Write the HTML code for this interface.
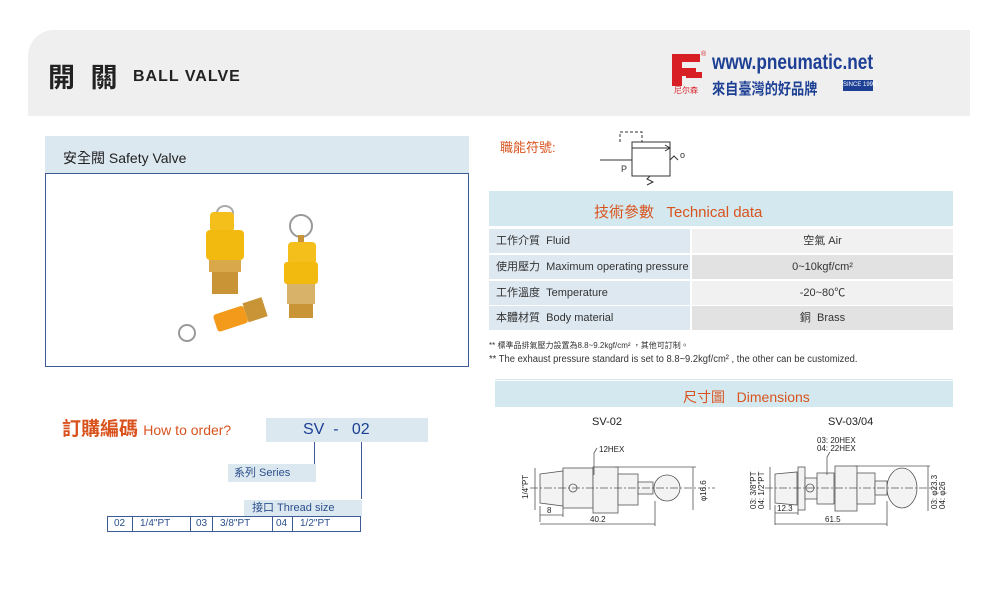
<!DOCTYPE html>
<html><head><meta charset="utf-8"><style>
*{margin:0;padding:0;box-sizing:border-box}
body{width:1000px;height:600px;background:#fff;position:relative;overflow:hidden;font-family:"Liberation Sans","Noto Sans CJK TC",sans-serif}
.a{position:absolute;white-space:nowrap}
.row{position:absolute;left:489px;width:464px;height:24px;font-size:11px;color:#333}
.row .l{position:absolute;left:0;top:0;width:201px;height:24px;background:#dde8f1;padding-left:7px;line-height:24px}
.row .r{position:absolute;left:203px;top:0;width:261px;height:24px;line-height:24px;text-align:center}
.or{color:#d9531e}
</style></head><body>
<div class="a" style="left:28px;top:30px;width:942px;height:86px;background:#efefef;border-top-left-radius:26px"></div>
<div class="a" style="left:48px;top:56px;font-size:27px;font-weight:bold;color:#222;letter-spacing:4px">開 關</div>
<div class="a" style="left:133px;top:68px;font-size:16px;font-weight:bold;color:#222;letter-spacing:1px">BALL VALVE</div>
<svg class="a" style="left:668px;top:48px" width="40" height="46"><path d="M4 6h28v8H14v6h14v8H14v10H4z" fill="#d91f26"/><path d="M18 24h16v6H18z" fill="#d91f26"/><text x="6" y="45" font-size="8" fill="#d91f26">尼尔森</text><text x="33" y="8" font-size="7" fill="#d91f26">®</text></svg>
<div class="a" style="left:712px;top:51px;font-size:21px;font-weight:bold;color:#1d3f94;transform:scaleX(0.82);transform-origin:left">www.pneumatic.net</div>
<div class="a" style="left:712px;top:77px;font-size:15.5px;font-weight:bold;color:#1d3f94;transform:scaleX(0.85);transform-origin:left">來自臺灣的好品牌</div>
<div class="a" style="left:843px;top:80px;width:30px;height:11px;background:#1d3f94;color:#fff;font-size:6px;text-align:center;line-height:11px">SINCE 1990</div>

<div class="a" style="left:45px;top:136px;width:424px;height:37px;background:#dce8f0"></div>
<div class="a" style="left:63px;top:148px;font-size:14px;color:#222">安全閥 Safety Valve</div>
<div class="a" style="left:45px;top:173px;width:424px;height:194px;border:1px solid #3d5a99"></div>
<svg class="a" style="left:170px;top:190px" width="170" height="160">
<ellipse cx="55" cy="23" rx="8" ry="7" fill="none" stroke="#aaa" stroke-width="2"/>
<rect x="40" y="22" width="24" height="20" rx="4" fill="#f4bf1a"/>
<rect x="36" y="40" width="38" height="30" rx="4" fill="#f2b90f"/>
<rect x="39" y="70" width="32" height="12" fill="#d9a84b"/>
<rect x="42" y="82" width="26" height="22" fill="#c89436"/>
<circle cx="131" cy="36" r="11" fill="none" stroke="#999" stroke-width="2"/>
<rect x="128" y="45" width="6" height="10" fill="#c89436"/>
<rect x="118" y="52" width="28" height="23" rx="4" fill="#f4bf1a"/>
<rect x="114" y="72" width="34" height="22" rx="3" fill="#f2b90f"/>
<rect x="117" y="94" width="28" height="20" fill="#d9b26a"/>
<rect x="119" y="114" width="24" height="14" fill="#c89436"/>
<g transform="rotate(-18 60 130)"><rect x="45" y="120" width="32" height="18" rx="3" fill="#f39a1a"/><rect x="77" y="118" width="20" height="20" fill="#c89436"/></g>
<circle cx="17" cy="143" r="8" fill="none" stroke="#999" stroke-width="2"/>
</svg>

<div class="a or" style="left:500px;top:137px;font-size:13px">職能符號:</div>
<svg class="a" style="left:595px;top:130px" width="100" height="60" fill="none" stroke="#333" stroke-width="1">
<path d="M25 12V2h22v10" stroke-dasharray="3 2"/>
<rect x="37" y="12" width="38" height="34"/>
<path d="M37 18h38M5 30h32M75 30l4 -4 4 4" /><path d="M70 15l5 3-5 3"/>
<path d="M55 46l-3 3 6 3-6 3"/>
<text x="26" y="42" font-size="9" fill="#333" stroke="none">P</text><text x="85" y="28" font-size="9" fill="#333" stroke="none">o</text>
</svg>

<div class="a" style="left:489px;top:191px;width:464px;height:35px;background:#d4e9ef"></div>
<div class="a or" style="left:594px;top:201px;font-size:15px">技術參數&nbsp;&nbsp;&nbsp;Technical data</div>
<div class="row" style="top:229px"><div class="l">工作介質&nbsp;&nbsp;Fluid</div><div class="r" style="background:#f1f1f1">空氣 Air</div></div>
<div class="row" style="top:255px"><div class="l">使用壓力&nbsp;&nbsp;Maximum operating pressure</div><div class="r" style="background:#e2e2e2">0~10kgf/cm²</div></div>
<div class="row" style="top:281px"><div class="l">工作溫度&nbsp;&nbsp;Temperature</div><div class="r" style="background:#f1f1f1">-20~80℃</div></div>
<div class="row" style="top:306px"><div class="l">本體材質&nbsp;&nbsp;Body material</div><div class="r" style="background:#e2e2e2">銅&nbsp;&nbsp;Brass</div></div>
<div class="a" style="left:489px;top:340px;font-size:8px;color:#333">** 標準品排氣壓力設置為8.8~9.2kgf/cm²&nbsp;，其他可訂制。</div>
<div class="a" style="left:489px;top:354px;font-size:10px;color:#333;transform:scaleX(0.94);transform-origin:left">** The exhaust pressure standard is set to 8.8~9.2kgf/cm²&nbsp;, the other can be customized.</div>
<div class="a" style="left:495px;top:379px;width:458px;height:1px;background:#d8e8ee"></div>
<div class="a" style="left:495px;top:381px;width:458px;height:26px;background:#d4e9ef"></div>
<div class="a or" style="left:683px;top:387px;font-size:14px">尺寸圖&nbsp;&nbsp;&nbsp;Dimensions</div>
<div class="a" style="left:592px;top:416px;font-size:11px;color:#222">SV-02</div>
<div class="a" style="left:828px;top:416px;font-size:11px;color:#222">SV-03/04</div>

<svg class="a" style="left:495px;top:421px" width="460" height="120" fill="none" stroke="#555" stroke-width="0.8" font-family="Liberation Sans" font-size="8">
<g fill="#f3f3f3">
<path d="M45 53l23-3v35l-23-3z"/><rect x="68" y="47" width="30" height="40"/><rect x="98" y="46" width="25" height="46"/><rect x="123" y="53" width="20" height="31"/><rect x="143" y="61" width="15" height="12"/>
<circle cx="172" cy="67" r="13"/></g>
<circle cx="78" cy="67" r="4"/>
<path d="M35 67h185" stroke-dasharray="8 2 2 2"/>
<path d="M40 53v29M40 47v42M45 85v16M68 87v9M45 94h23M160 80v25M45 103h115M120 46h81M198 46v43"/>
<path d="M102 27l-3 5v22"/><text x="104" y="31" fill="#222" stroke="none">12HEX</text>
<text x="52" y="92" fill="#222" stroke="none">8</text><text x="95" y="101" fill="#222" stroke="none">40.2</text>
<text transform="translate(33 78) rotate(-90)" fill="#222" stroke="none">1/4"PT</text>
<text transform="translate(211 80) rotate(-90)" fill="#222" stroke="none">φ16.6</text>
<g transform="translate(230 0)">
<g fill="#f3f3f3"><path d="M50 53l22-2v33l-22-2z"/><rect x="73" y="46" width="7" height="43"/><rect x="80" y="57" width="12" height="21"/><rect x="92" y="52" width="17" height="31"/><rect x="110" y="45" width="22" height="45"/><rect x="132" y="52" width="18" height="31"/><rect x="150" y="60" width="12" height="14"/>
<ellipse cx="177" cy="67" rx="15" ry="20"/></g>
<circle cx="85" cy="67" r="4"/>
<path d="M40 67h172" stroke-dasharray="8 2 2 2"/>
<path d="M45 53v29M45 46v43M50 84v20M73 89v5M50 92h23M162 80v25M50 103h112M130 45h75M203 45v45"/>
<path d="M105 31l-3 5v18"/><text x="92" y="22" fill="#222" stroke="none">03: 20HEX</text><text x="92" y="30" fill="#222" stroke="none">04: 22HEX</text>
<text x="52" y="90" fill="#222" stroke="none">12.3</text><text x="100" y="101" fill="#222" stroke="none">61.5</text>
<text transform="translate(31 88) rotate(-90)" fill="#222" stroke="none">03: 3/8"PT</text>
<text transform="translate(39 88) rotate(-90)" fill="#222" stroke="none">04: 1/2"PT</text>
<text transform="translate(212 88) rotate(-90)" fill="#222" stroke="none">03: φ23.3</text>
<text transform="translate(220 88) rotate(-90)" fill="#222" stroke="none">04: φ26</text>
</g>
</svg>

<div class="a or" style="left:62px;top:414px;font-size:19px;font-weight:bold">訂購編碼 <span style="font-size:14px;font-weight:normal">How to order?</span></div>
<div class="a" style="left:266px;top:418px;width:162px;height:24px;background:#dce8f0;color:#1d3f94;font-size:16px;line-height:24px;padding-left:37px">SV&nbsp;&nbsp;-&nbsp;&nbsp;&nbsp;02</div>
<div class="a" style="left:314px;top:442px;width:1px;height:22px;background:#3d5a99"></div>
<div class="a" style="left:361px;top:442px;width:1px;height:57px;background:#3d5a99"></div>
<div class="a" style="left:228px;top:464px;width:88px;height:18px;background:#dce8f0;color:#2b4f8c;font-size:11px;line-height:18px;padding-left:6px">系列 Series</div>
<div class="a" style="left:244px;top:500px;width:118px;height:17px;background:#dce8f0;color:#2b4f8c;font-size:11px;line-height:17px;padding-left:8px">接口 Thread size</div>
<div class="a" style="left:107px;top:516px;width:254px;height:16px;border:1px solid #3d5a99;font-size:10px;color:#2b4f8c;line-height:14px">
<span class="a" style="left:6px">02</span><span class="a" style="left:24px;top:0;height:14px;border-left:1px solid #3d5a99"></span>
<span class="a" style="left:32px">1/4"PT</span><span class="a" style="left:82px;top:0;height:14px;border-left:1px solid #3d5a99"></span>
<span class="a" style="left:88px">03</span><span class="a" style="left:104px;top:0;height:14px;border-left:1px solid #3d5a99"></span>
<span class="a" style="left:112px">3/8"PT</span><span class="a" style="left:164px;top:0;height:14px;border-left:1px solid #3d5a99"></span>
<span class="a" style="left:168px">04</span><span class="a" style="left:184px;top:0;height:14px;border-left:1px solid #3d5a99"></span>
<span class="a" style="left:192px">1/2"PT</span>
</div>
</body></html>
